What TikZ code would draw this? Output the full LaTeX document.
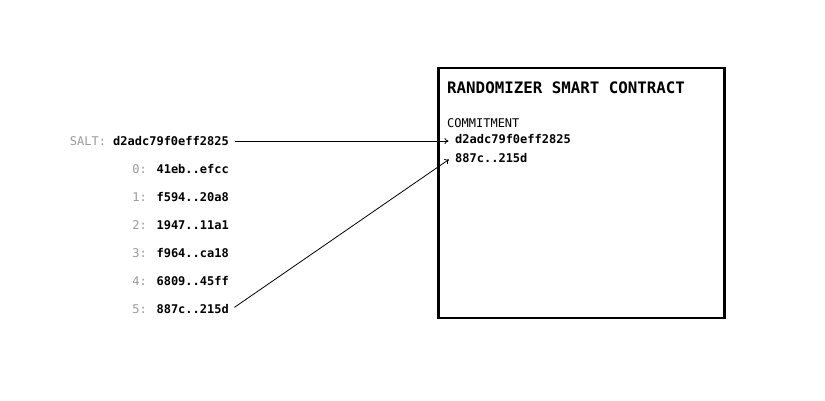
\documentclass[tikz,border=0pt]{standalone}
\usepackage{fontspec}
\usetikzlibrary{arrows.meta}
\newfontfamily\mono{DejaVu Sans Mono}
\definecolor{lbl}{HTML}{9A9A9A}
\begin{document}
\begin{tikzpicture}[x=1pt,y=-1pt,
  row/.style={anchor=base east,inner sep=3pt,font=\mono\fontsize{12}{14}\selectfont},
  item/.style={anchor=base west,inner sep=4pt,font=\mono\fontsize{12}{14}\selectfont\bfseries},
  conn/.style={-{To[length=4pt,width=6pt]},line width=0.8pt}]
\useasboundingbox (0,0) rectangle (825,400);
\node[draw,line width=2.6pt,minimum width=286pt,minimum height=250pt,anchor=north west,inner sep=0pt] (box) at (437,66.5) {};
\node[anchor=base west,inner sep=0pt,font=\mono\fontsize{15.8}{18}\selectfont\bfseries] (title) at (447,93) {RANDOMIZER SMART CONTRACT};
\node[anchor=base west,inner sep=0pt,font=\mono\fontsize{12}{14}\selectfont] (commit) at (447,127) {COMMITMENT};
\node[item] (c1) at (451,143.5) {d2adc79f0eff2825};
\node[item] (c2) at (451,162.5) {887c..215d};
\node[row] (salt) at (232,145.5) {{\color{lbl}SALT: }\textbf{d2adc79f0eff2825}};
\node[row] (r0) at (232,173.5) {{\color{lbl}0: }\textbf{41eb..efcc}};
\node[row] (r1) at (232,201.5) {{\color{lbl}1: }\textbf{f594..20a8}};
\node[row] (r2) at (232,229.5) {{\color{lbl}2: }\textbf{1947..11a1}};
\node[row] (r3) at (232,257.5) {{\color{lbl}3: }\textbf{f964..ca18}};
\node[row] (r4) at (232,285.5) {{\color{lbl}4: }\textbf{6809..45ff}};
\node[row] (r5) at (232,313.5) {{\color{lbl}5: }\textbf{887c..215d}};
\draw[conn,shorten <=3pt,shorten >=2.5pt] (salt.east) -- (salt.east -| c1.west);
\draw[conn,shorten <=3pt,shorten >=2.5pt] (r5.east) -- (c2.west);
\end{tikzpicture}
\end{document}
